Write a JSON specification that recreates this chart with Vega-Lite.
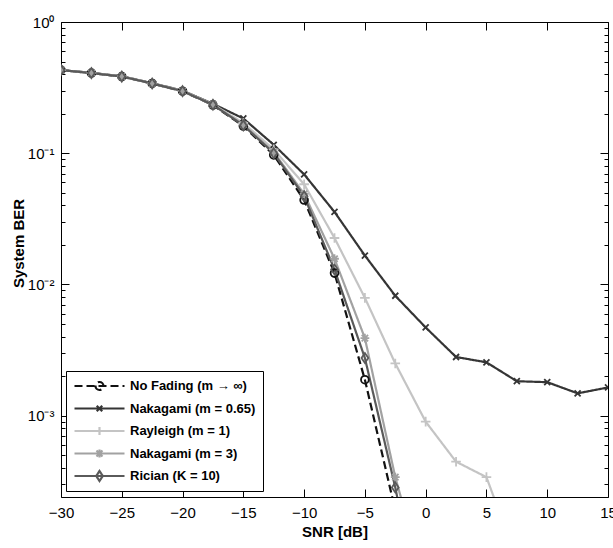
{
  "$schema": "https://vega.github.io/schema/vega-lite/v6.json",
  "width": 547,
  "height": 475,
  "autosize": {"type": "none"},
  "padding": {"left": 61, "top": 22, "right": 5, "bottom": 51},
  "background": "#ffffff",
  "data": {"values": [
    {"series": "No Fading (m → ∞)", "snr": -30, "ber": 0.43},
    {"series": "No Fading (m → ∞)", "snr": -27.5, "ber": 0.408},
    {"series": "No Fading (m → ∞)", "snr": -25, "ber": 0.384},
    {"series": "No Fading (m → ∞)", "snr": -22.5, "ber": 0.34},
    {"series": "No Fading (m → ∞)", "snr": -20, "ber": 0.297},
    {"series": "No Fading (m → ∞)", "snr": -17.5, "ber": 0.233},
    {"series": "No Fading (m → ∞)", "snr": -15, "ber": 0.161},
    {"series": "No Fading (m → ∞)", "snr": -12.5, "ber": 0.097},
    {"series": "No Fading (m → ∞)", "snr": -10, "ber": 0.044},
    {"series": "No Fading (m → ∞)", "snr": -7.5, "ber": 0.0122},
    {"series": "No Fading (m → ∞)", "snr": -5, "ber": 0.00188},
    {"series": "No Fading (m → ∞)", "snr": -2.5, "ber": 0.00019},
    {"series": "Nakagami (m = 0.65)", "snr": -30, "ber": 0.43},
    {"series": "Nakagami (m = 0.65)", "snr": -27.5, "ber": 0.41},
    {"series": "Nakagami (m = 0.65)", "snr": -25, "ber": 0.386},
    {"series": "Nakagami (m = 0.65)", "snr": -22.5, "ber": 0.342},
    {"series": "Nakagami (m = 0.65)", "snr": -20, "ber": 0.3},
    {"series": "Nakagami (m = 0.65)", "snr": -17.5, "ber": 0.238},
    {"series": "Nakagami (m = 0.65)", "snr": -15, "ber": 0.184},
    {"series": "Nakagami (m = 0.65)", "snr": -12.5, "ber": 0.116},
    {"series": "Nakagami (m = 0.65)", "snr": -10, "ber": 0.069},
    {"series": "Nakagami (m = 0.65)", "snr": -7.5, "ber": 0.0357},
    {"series": "Nakagami (m = 0.65)", "snr": -5, "ber": 0.0166},
    {"series": "Nakagami (m = 0.65)", "snr": -2.5, "ber": 0.0082},
    {"series": "Nakagami (m = 0.65)", "snr": 0, "ber": 0.0047},
    {"series": "Nakagami (m = 0.65)", "snr": 2.5, "ber": 0.0028},
    {"series": "Nakagami (m = 0.65)", "snr": 5, "ber": 0.00255},
    {"series": "Nakagami (m = 0.65)", "snr": 7.5, "ber": 0.00183},
    {"series": "Nakagami (m = 0.65)", "snr": 10, "ber": 0.0018},
    {"series": "Nakagami (m = 0.65)", "snr": 12.5, "ber": 0.00148},
    {"series": "Nakagami (m = 0.65)", "snr": 15, "ber": 0.00164},
    {"series": "Rayleigh (m = 1)", "snr": -30, "ber": 0.43},
    {"series": "Rayleigh (m = 1)", "snr": -27.5, "ber": 0.409},
    {"series": "Rayleigh (m = 1)", "snr": -25, "ber": 0.385},
    {"series": "Rayleigh (m = 1)", "snr": -22.5, "ber": 0.341},
    {"series": "Rayleigh (m = 1)", "snr": -20, "ber": 0.299},
    {"series": "Rayleigh (m = 1)", "snr": -17.5, "ber": 0.236},
    {"series": "Rayleigh (m = 1)", "snr": -15, "ber": 0.17},
    {"series": "Rayleigh (m = 1)", "snr": -12.5, "ber": 0.107},
    {"series": "Rayleigh (m = 1)", "snr": -10, "ber": 0.058},
    {"series": "Rayleigh (m = 1)", "snr": -7.5, "ber": 0.0226},
    {"series": "Rayleigh (m = 1)", "snr": -5, "ber": 0.0079},
    {"series": "Rayleigh (m = 1)", "snr": -2.5, "ber": 0.0025},
    {"series": "Rayleigh (m = 1)", "snr": 0, "ber": 0.0009},
    {"series": "Rayleigh (m = 1)", "snr": 2.5, "ber": 0.000446},
    {"series": "Rayleigh (m = 1)", "snr": 5, "ber": 0.00034},
    {"series": "Rayleigh (m = 1)", "snr": 7.5, "ber": 0.00008},
    {"series": "Nakagami (m = 3)", "snr": -30, "ber": 0.43},
    {"series": "Nakagami (m = 3)", "snr": -27.5, "ber": 0.409},
    {"series": "Nakagami (m = 3)", "snr": -25, "ber": 0.385},
    {"series": "Nakagami (m = 3)", "snr": -22.5, "ber": 0.34},
    {"series": "Nakagami (m = 3)", "snr": -20, "ber": 0.298},
    {"series": "Nakagami (m = 3)", "snr": -17.5, "ber": 0.234},
    {"series": "Nakagami (m = 3)", "snr": -15, "ber": 0.165},
    {"series": "Nakagami (m = 3)", "snr": -12.5, "ber": 0.102},
    {"series": "Nakagami (m = 3)", "snr": -10, "ber": 0.049},
    {"series": "Nakagami (m = 3)", "snr": -7.5, "ber": 0.0157},
    {"series": "Nakagami (m = 3)", "snr": -5, "ber": 0.0039},
    {"series": "Nakagami (m = 3)", "snr": -2.5, "ber": 0.00034},
    {"series": "Nakagami (m = 3)", "snr": 0, "ber": 0.00005},
    {"series": "Rician (K = 10)", "snr": -30, "ber": 0.43},
    {"series": "Rician (K = 10)", "snr": -27.5, "ber": 0.408},
    {"series": "Rician (K = 10)", "snr": -25, "ber": 0.384},
    {"series": "Rician (K = 10)", "snr": -22.5, "ber": 0.34},
    {"series": "Rician (K = 10)", "snr": -20, "ber": 0.297},
    {"series": "Rician (K = 10)", "snr": -17.5, "ber": 0.234},
    {"series": "Rician (K = 10)", "snr": -15, "ber": 0.163},
    {"series": "Rician (K = 10)", "snr": -12.5, "ber": 0.1},
    {"series": "Rician (K = 10)", "snr": -10, "ber": 0.047},
    {"series": "Rician (K = 10)", "snr": -7.5, "ber": 0.013},
    {"series": "Rician (K = 10)", "snr": -5, "ber": 0.00275},
    {"series": "Rician (K = 10)", "snr": -2.5, "ber": 0.000284},
    {"series": "Rician (K = 10)", "snr": 0, "ber": 0.00002}
  ]},
  "layer": [
    {
      "mark": {"type": "line", "clip": true, "strokeWidth": 2.2, "opacity": 1},
      "encoding": {
        "x": {"field": "snr", "type": "quantitative",
          "scale": {"domain": [-30, 15], "nice": false},
          "axis": {"orient": "bottom", "values": [-30, -25, -20, -15, -10, -5, 0, 5, 10, 15], "tickSize": -8, "labelPadding": 16, "labelFlush": false, "labelOverlap": false, "labelBaseline": "top",
            "title": "SNR [dB]", "titleY": 39, "titleBaseline": "alphabetic"}},
        "y": {"field": "ber", "type": "quantitative",
          "scale": {"type": "log", "domain": [0.00024, 1], "nice": false},
          "axis": {"orient": "left",
            "values": [0.0003, 0.0004, 0.0005, 0.0006, 0.0007, 0.0008, 0.0009, 0.001, 0.002, 0.003, 0.004, 0.005, 0.006, 0.007, 0.008, 0.009, 0.01, 0.02, 0.03, 0.04, 0.05, 0.06, 0.07, 0.08, 0.09, 0.1, 0.2, 0.3, 0.4, 0.5, 0.6, 0.7, 0.8, 0.9, 1],
            "tickSize": {"condition": {"test": "abs(log(datum.value)/LN10 - round(log(datum.value)/LN10)) < 0.001", "value": -8}, "value": -4},
            "labelExpr": "abs(log(datum.value)/LN10 - round(log(datum.value)/LN10)) < 0.001 ? '10' + ['⁰','⁻¹','⁻²','⁻³'][-round(log(datum.value)/LN10)] : ''",
            "labelPadding": 15, "labelOverlap": false, "labelFlush": false,
            "title": "System BER", "titleX": -38, "titleY": 221, "titleBaseline": "alphabetic"}},
        "color": {"field": "series", "type": "nominal",
          "scale": {"domain": ["No Fading (m → ∞)", "Nakagami (m = 0.65)", "Rayleigh (m = 1)", "Nakagami (m = 3)", "Rician (K = 10)"],
            "range": ["#111111", "#353535", "#c4c4c4", "#a2a2a2", "#5a5a5a"]},
          "legend": {"title": null, "orient": "none", "legendX": 5, "legendY": 349,
            "strokeColor": "#000000", "fillColor": "#ffffff", "padding": 7,
            "symbolSize": 2500, "symbolStrokeWidth": 2.2, "symbolOpacity": 1, "clipHeight": 16, "rowPadding": 6.5, "labelOffset": 4,
            "labelFont": "Liberation Sans", "labelFontSize": 13, "labelFontWeight": "bold", "labelColor": "#000000", "labelLimit": 300}},
        "strokeDash": {"field": "series", "type": "nominal",
          "scale": {"domain": ["No Fading (m → ∞)", "Nakagami (m = 0.65)", "Rayleigh (m = 1)", "Nakagami (m = 3)", "Rician (K = 10)"],
            "range": [[8, 4], [1, 0], [1, 0], [1, 0], [1, 0]]},
          "legend": {"title": null}}
      }
    },
    {
      "mark": {"type": "point", "clip": true, "filled": false, "size": 0, "opacity": 1},
      "encoding": {
        "x": {"field": "snr", "type": "quantitative",
          "axis": {"orient": "top", "values": [-30, -25, -20, -15, -10, -5, 0, 5, 10, 15], "tickSize": -8, "labels": false, "title": null}},
        "y": {"field": "ber", "type": "quantitative",
          "axis": {"orient": "right",
            "values": [0.0003, 0.0004, 0.0005, 0.0006, 0.0007, 0.0008, 0.0009, 0.001, 0.002, 0.003, 0.004, 0.005, 0.006, 0.007, 0.008, 0.009, 0.01, 0.02, 0.03, 0.04, 0.05, 0.06, 0.07, 0.08, 0.09, 0.1, 0.2, 0.3, 0.4, 0.5, 0.6, 0.7, 0.8, 0.9, 1],
            "tickSize": {"condition": {"test": "abs(log(datum.value)/LN10 - round(log(datum.value)/LN10)) < 0.001", "value": -8}, "value": -4},
            "labels": false, "title": null}},
        "color": {"field": "series", "type": "nominal",
          "scale": {"domain": ["No Fading (m → ∞)", "Nakagami (m = 0.65)", "Rayleigh (m = 1)", "Nakagami (m = 3)", "Rician (K = 10)"]}},
        "shape": {"field": "series", "type": "nominal",
          "scale": {"domain": ["No Fading (m → ∞)", "Nakagami (m = 0.65)", "Rayleigh (m = 1)", "Nakagami (m = 3)", "Rician (K = 10)"],
            "range": ["M-1,0H1M-0.16,0A0.16,0.16,0,1,0,0.16,0A0.16,0.16,0,1,0,-0.16,0", "M-1,0H1M-0.11,-0.11L0.11,0.11M-0.11,0.11L0.11,-0.11", "M-1,0H1M0,-0.16V0.16", "M-1,0H1M0,-0.16V0.16M-0.12,-0.12L0.12,0.12M-0.12,0.12L0.12,-0.12", "M-1,0H1M0,-0.2L0.13,0L0,0.2L-0.13,0Z"]},
          "legend": {"title": null}}
      }
    },
    {
      "transform": [{"filter": {"field": "series", "equal": "No Fading (m → ∞)"}}],
      "mark": {"type": "point", "clip": true, "filled": false, "strokeWidth": 1.8, "size": 60, "shape": "circle", "opacity": 1},
      "encoding": {
        "x": {"field": "snr", "type": "quantitative", "axis": null},
        "y": {"field": "ber", "type": "quantitative", "axis": null},
        "color": {"field": "series", "type": "nominal"}
      }
    },
    {
      "transform": [{"filter": {"field": "series", "equal": "Nakagami (m = 0.65)"}}],
      "mark": {"type": "point", "clip": true, "filled": false, "strokeWidth": 1.8, "size": 64, "shape": "M-0.75,-0.75L0.75,0.75M-0.75,0.75L0.75,-0.75", "opacity": 1},
      "encoding": {
        "x": {"field": "snr", "type": "quantitative", "axis": null},
        "y": {"field": "ber", "type": "quantitative", "axis": null},
        "color": {"field": "series", "type": "nominal"}
      }
    },
    {
      "transform": [{"filter": {"field": "series", "equal": "Rayleigh (m = 1)"}}],
      "mark": {"type": "point", "clip": true, "filled": false, "strokeWidth": 1.8, "size": 64, "shape": "M-1.2,0H1.2M0,-1.2V1.2", "opacity": 1},
      "encoding": {
        "x": {"field": "snr", "type": "quantitative", "axis": null},
        "y": {"field": "ber", "type": "quantitative", "axis": null},
        "color": {"field": "series", "type": "nominal"}
      }
    },
    {
      "transform": [{"filter": {"field": "series", "equal": "Nakagami (m = 3)"}}],
      "mark": {"type": "point", "clip": true, "filled": false, "strokeWidth": 1.8, "size": 64, "shape": "M-1.1,0H1.1M0,-1.1V1.1M-0.8,-0.8L0.8,0.8M-0.8,0.8L0.8,-0.8", "opacity": 1},
      "encoding": {
        "x": {"field": "snr", "type": "quantitative", "axis": null},
        "y": {"field": "ber", "type": "quantitative", "axis": null},
        "color": {"field": "series", "type": "nominal"}
      }
    },
    {
      "transform": [{"filter": {"field": "series", "equal": "Rician (K = 10)"}}],
      "mark": {"type": "point", "clip": true, "filled": false, "strokeWidth": 1.8, "size": 64, "shape": "M0,-1.25L0.85,0L0,1.25L-0.85,0Z", "opacity": 1},
      "encoding": {
        "x": {"field": "snr", "type": "quantitative", "axis": null},
        "y": {"field": "ber", "type": "quantitative", "axis": null},
        "color": {"field": "series", "type": "nominal"}
      }
    }
  ],
  "resolve": {"axis": {"x": "independent", "y": "independent"}},
  "config": {
    "view": {"stroke": "#000000", "strokeWidth": 1},
    "axis": {"domain": false, "grid": false, "tickColor": "#000000", "tickWidth": 1,
      "labelColor": "#000000", "labelFont": "Liberation Sans", "labelFontSize": 15,
      "titleColor": "#000000", "titleFont": "Liberation Sans", "titleFontSize": 15, "titleFontWeight": "bold"}
  }
}
